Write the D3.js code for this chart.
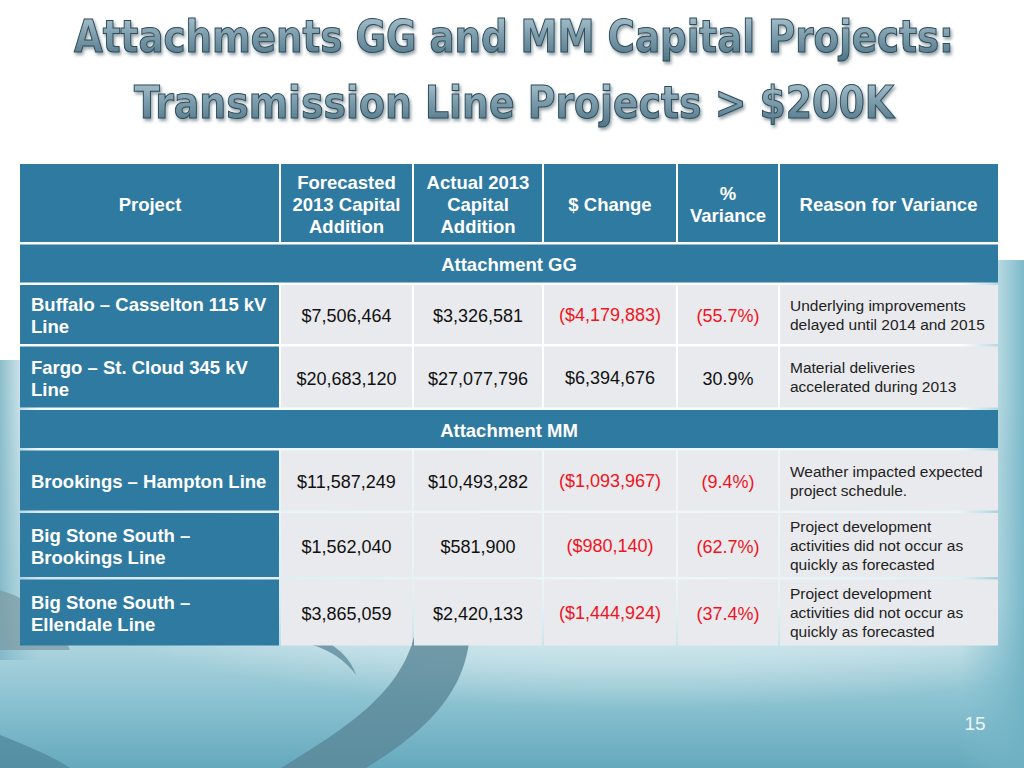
<!DOCTYPE html>
<html>
<head>
<meta charset="utf-8">
<script src="https://cdn.jsdelivr.net/npm/d3@7"></script>
<style>
  html, body { margin: 0; padding: 0; background: #fff; }
  svg { display: block; }
</style>
</head>
<body>
<svg id="slide" width="1024" height="768"></svg>
<script>
// --- data ---
var titleLines = ["Attachments GG and MM Capital Projects:", "Transmission Line Projects > $200K"];
var headers = [["Project"], ["Forecasted", "2013 Capital", "Addition"], ["Actual 2013", "Capital", "Addition"], ["$ Change"], ["%", "Variance"], ["Reason for Variance"]];
var sections = ["Attachment GG", "Attachment MM"];
var projects = [["Buffalo \u2013 Casselton 115 kV", "Line"], ["Fargo \u2013 St. Cloud 345 kV", "Line"], ["Brookings \u2013 Hampton Line"], ["Big Stone South \u2013", "Brookings Line"], ["Big Stone South \u2013", "Ellendale Line"]];
var projectSection = [0, 0, 1, 1, 1];
var forecasted = [7506464, 20683120, 11587249, 1562040, 3865059];
var actual = [3326581, 27077796, 10493282, 581900, 2420133];
var change = [-4179883, 6394676, -1093967, -980140, -1444924];
var variance = [-55.7, 30.9, -9.4, -62.7, -37.4];
var reasons = [["Underlying improvements", "delayed until 2014 and 2015"], ["Material deliveries", "accelerated during 2013"], ["Weather impacted expected", "project schedule."], ["Project development", "activities did not occur as", "quickly as forecasted"], ["Project development", "activities did not occur as", "quickly as forecasted"]];
var pageNumber = "15";

// --- layout ---
var colEdges = [20, 280, 413, 543, 677, 779, 998];
var rowHeights = { header: 78, section: 38, data: [59, 61, 60, 64, 66] };
var tableTop = 164, rowGap = 2.5;
var headBlue = "#2f7aa0", cellGray = "#e9eaed", red = "#f0141e";

var svg = d3.select("#slide");
var defs = svg.append("defs");

// background gradients
var bg = defs.append("linearGradient").attr("id", "bgV").attr("x1", 0).attr("y1", 0).attr("x2", 0).attr("y2", 1);
bg.append("stop").attr("offset", "0%").attr("stop-color", "#ffffff");
bg.append("stop").attr("offset", "50%").attr("stop-color", "#ffffff");
bg.append("stop").attr("offset", "78%").attr("stop-color", "#c8e3ea");
bg.append("stop").attr("offset", "92%").attr("stop-color", "#88c0cf");
bg.append("stop").attr("offset", "100%").attr("stop-color", "#65a9bd");

var glow = defs.append("radialGradient").attr("id", "glow");
glow.append("stop").attr("offset", "0%").attr("stop-color", "#ffffff").attr("stop-opacity", 0.7);
glow.append("stop").attr("offset", "70%").attr("stop-color", "#ffffff").attr("stop-opacity", 0.3);
glow.append("stop").attr("offset", "100%").attr("stop-color", "#ffffff").attr("stop-opacity", 0);

var edgeR = defs.append("linearGradient").attr("id", "edgeR").attr("x1", 0).attr("x2", 1);
edgeR.append("stop").attr("offset", "0%").attr("stop-color", "#7fbccc").attr("stop-opacity", 0);
edgeR.append("stop").attr("offset", "100%").attr("stop-color", "#6fb2c4").attr("stop-opacity", 0.9);
var edgeL = defs.append("linearGradient").attr("id", "edgeL").attr("x1", 1).attr("x2", 0);
edgeL.append("stop").attr("offset", "0%").attr("stop-color", "#8fc3d0").attr("stop-opacity", 0);
edgeL.append("stop").attr("offset", "100%").attr("stop-color", "#7fb6c6").attr("stop-opacity", 0.9);

var tg = defs.append("linearGradient").attr("id", "titleFill").attr("x1", 0).attr("y1", 0).attr("x2", 0).attr("y2", 1);
tg.append("stop").attr("offset", "0%").attr("stop-color", "#b3cbd6");
tg.append("stop").attr("offset", "45%").attr("stop-color", "#809fae");
tg.append("stop").attr("offset", "100%").attr("stop-color", "#4c7386");

var sh = defs.append("filter").attr("id", "shadow").attr("x", "-5%").attr("y", "-20%").attr("width", "110%").attr("height", "150%");
sh.append("feDropShadow").attr("dx", 1.5).attr("dy", 2.5).attr("stdDeviation", 1.5).attr("flood-color", "#1d3440").attr("flood-opacity", 0.45);

svg.append("rect").attr("width", 1024).attr("height", 768).attr("fill", "url(#bgV)");
svg.append("ellipse").attr("cx", 640).attr("cy", 570).attr("rx", 620).attr("ry", 140).attr("fill", "url(#glow)");
svg.append("rect").attr("x", 960).attr("y", 260).attr("width", 64).attr("height", 508).attr("fill", "url(#edgeR)");
svg.append("rect").attr("x", 0).attr("y", 360).attr("width", 40).attr("height", 300).attr("fill", "url(#edgeL)");

// swirl shapes behind the table
svg.append("path")
  .attr("d", "M470,600 C474,660 462,710 366,768 L281,768 C360,720 420,680 418,600 Z")
  .attr("fill", "#5a8797").attr("opacity", 0.8);
svg.append("path")
  .attr("d", "M300,630 C330,640 350,655 356,675 C345,660 330,650 312,645 Z")
  .attr("fill", "#5a8797").attr("opacity", 0.75);
svg.append("path")
  .attr("d", "M0,590 C30,600 55,615 70,650 L0,650 Z")
  .attr("fill", "#7a98a3").attr("opacity", 0.7);
svg.append("path")
  .attr("d", "M0,735 C25,745 50,755 70,768 L0,768 Z")
  .attr("fill", "#4f8498").attr("opacity", 0.7);

// title
var title = svg.append("g").attr("filter", "url(#shadow)");
title.selectAll("text").data(titleLines).join("text")
  .attr("x", 514)
  .attr("y", function(d, i) { return i === 0 ? 52 : 118; })
  .attr("text-anchor", "middle")
  .attr("textLength", function(d, i) { return i === 0 ? 880 : 760; })
  .attr("lengthAdjust", "spacingAndGlyphs")
  .style("font-family", "'DejaVu Sans Condensed', 'DejaVu Sans', sans-serif")
  .style("font-weight", "bold")
  .style("font-size", "44px")
  .attr("fill", "url(#titleFill)")
  .attr("stroke", "#2f4c5a")
  .attr("stroke-width", 1)
  .text(function(d) { return d; });

// build row list
var rows = [{ type: "header" }];
sections.forEach(function(s, si) {
  rows.push({ type: "section", label: s });
  projects.forEach(function(p, i) { if (projectSection[i] === si) rows.push({ type: "data", i: i }); });
});
var y = tableTop;
rows.forEach(function(r) {
  r.h = r.type === "header" ? rowHeights.header : r.type === "section" ? rowHeights.section : rowHeights.data[r.i];
  r.y = y;
  y += r.h + rowGap;
});

var fmtMoney = function(v) { var s = "$" + d3.format(",")(Math.abs(v)); return v < 0 ? "(" + s + ")" : s; };
var fmtPct = function(v) { var s = d3.format(".1f")(Math.abs(v)) + "%"; return v < 0 ? "(" + s + ")" : s; };

var table = svg.append("g").style("font-family", "'Liberation Sans', Arial, sans-serif");

function lines(g, arr, x, cy, lh, anchor, size, weight, color) {
  var t0 = cy - (arr.length - 1) * lh / 2;
  g.selectAll(null).data(arr).join("text")
    .attr("x", x).attr("y", function(d, k) { return t0 + k * lh; })
    .attr("dy", "0.35em")
    .attr("text-anchor", anchor)
    .style("font-size", size + "px").style("font-weight", weight)
    .attr("fill", color)
    .text(function(d) { return d; });
}

var boldSize = 18.5;
rows.forEach(function(r) {
  var g = table.append("g");
  var cy = r.y + r.h / 2;
  if (r.type === "section") {
    g.append("rect").attr("x", colEdges[0]).attr("y", r.y).attr("width", colEdges[6] - colEdges[0]).attr("height", r.h).attr("fill", headBlue);
    lines(g, [r.label], (colEdges[0] + colEdges[6]) / 2, cy + 1.5, 22, "middle", boldSize, "bold", "#fff");
    return;
  }
  for (var c = 0; c < 6; c++) {
    var x0 = colEdges[c] + (c === 0 ? 0 : 1), x1 = colEdges[c + 1] - (c === 5 ? 0 : 1);
    var fill = (r.type === "header" || c === 0) ? headBlue : cellGray;
    g.append("rect").attr("x", x0).attr("y", r.y).attr("width", x1 - x0).attr("height", r.h).attr("fill", fill);
    var mid = (colEdges[c] + colEdges[c + 1]) / 2;
    if (r.type === "header") {
      lines(g, headers[c], mid, cy + 1.5, 22, "middle", boldSize, "bold", "#fff");
      continue;
    }
    var i = r.i;
    if (c === 0) lines(g, projects[i], colEdges[0] + 11, cy + 1.5, 22, "start", boldSize, "bold", "#fff");
    if (c === 1) lines(g, [fmtMoney(forecasted[i])], mid, cy + 1.5, 22, "middle", 18, "normal", "#111");
    if (c === 2) lines(g, [fmtMoney(actual[i])], mid, cy + 1.5, 22, "middle", 18, "normal", "#111");
    if (c === 3) lines(g, [fmtMoney(change[i])], mid, cy + 0.5, 22, "middle", 18, "normal", change[i] < 0 ? red : "#111");
    if (c === 4) lines(g, [fmtPct(variance[i])], mid, cy + 1.5, 22, "middle", 18, "normal", variance[i] < 0 ? red : "#111");
    if (c === 5) lines(g, reasons[i], colEdges[5] + 11, cy + 0.5, 19, "start", 15.5, "normal", "#222");
  }
});

svg.append("text").attr("x", 975).attr("y", 723).attr("dy", "0.35em").attr("text-anchor", "middle")
  .style("font-family", "'Liberation Sans Narrow', 'Liberation Sans', sans-serif")
  .style("font-size", "19px").attr("fill", "#eef5f8").text(pageNumber);
</script>
</body>
</html>
